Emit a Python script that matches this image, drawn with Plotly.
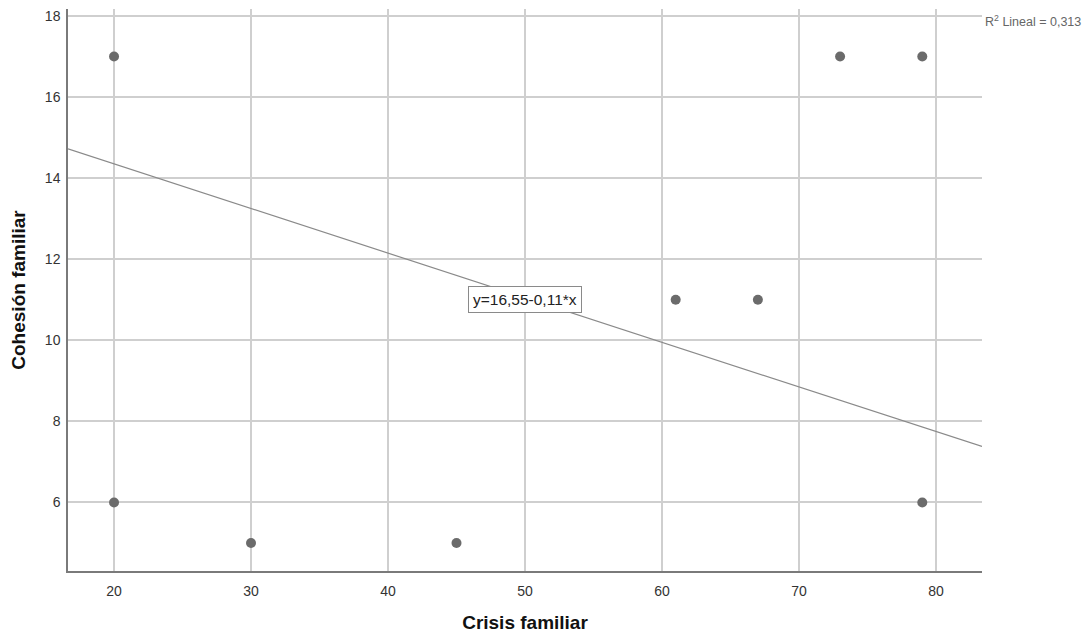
import plotly.graph_objects as go

# Data
crisis_familiar = [20, 20, 30, 45, 61, 67, 73, 79, 79]
cohesion_familiar = [17, 6, 5, 5, 11, 11, 17, 17, 6]

# Fit line as printed on the chart: y = 16.55 - 0.11*x
intercept = 16.55
slope = -0.11
x_range = [16.64, 83.36]
y_range = [4.31, 18.17]
x_ticks = [20, 30, 40, 50, 60, 70, 80]
y_ticks = [6, 8, 10, 12, 14, 16, 18]

line_x = x_range
line_y = [intercept + slope * v for v in line_x]

FONT = "Liberation Sans, Arial, sans-serif"

fig = go.Figure()
fig.add_trace(go.Scatter(
    x=line_x, y=line_y, mode="lines",
    line=dict(color="#8a8a8a", width=1.2),
    hoverinfo="skip", showlegend=False,
))
fig.add_trace(go.Scatter(
    x=crisis_familiar, y=cohesion_familiar, mode="markers",
    marker=dict(color="#6b6b6b", size=10),
    showlegend=False,
))

fig.add_annotation(
    x=50, y=11, xref="x", yref="y",
    text="y=16,55-0,11*x", showarrow=False,
    font=dict(family=FONT, size=15.5, color="#222222"),
    bgcolor="white", bordercolor="#8a8a8a", borderwidth=1, borderpad=4,
)
fig.add_annotation(
    x=1.0, y=1.0, xref="paper", yref="paper",
    xanchor="left", yanchor="top", xshift=1, yshift=-2,
    text="R<sup>2</sup> Lineal = 0,313", showarrow=False,
    font=dict(family=FONT, size=12.5, color="#666666"),
)

fig.update_layout(
    width=1084, height=628,
    margin=dict(l=60, r=110, t=1, b=65),
    paper_bgcolor="white", plot_bgcolor="white",
    font=dict(family=FONT, color="#333333"),
    xaxis=dict(
        range=x_range, tickvals=x_ticks,
        showgrid=True, gridcolor="#cfcfcf", gridwidth=1.5,
        zeroline=False, showline=True, linecolor="#7a7a7a", linewidth=1.5,
        ticks="outside", ticklen=6, tickcolor="rgba(0,0,0,0)",
        ticklabeloverflow="allow",
        tickfont=dict(size=14, color="#333333"),
        title=dict(text="<b>Crisis familiar</b>", font=dict(size=19, color="#111111"), standoff=18),
    ),
    yaxis=dict(
        range=y_range, tickvals=y_ticks,
        showgrid=True, gridcolor="#cfcfcf", gridwidth=1.5,
        zeroline=False, showline=True, linecolor="#7a7a7a", linewidth=1.5,
        ticks="outside", ticklen=3, tickcolor="rgba(0,0,0,0)",
        ticklabeloverflow="allow",
        tickfont=dict(size=14, color="#333333"),
        title=dict(text="<b>Cohesión familiar</b>", font=dict(size=19, color="#111111"), standoff=14),
    ),
)

fig.write_html("out.html")
